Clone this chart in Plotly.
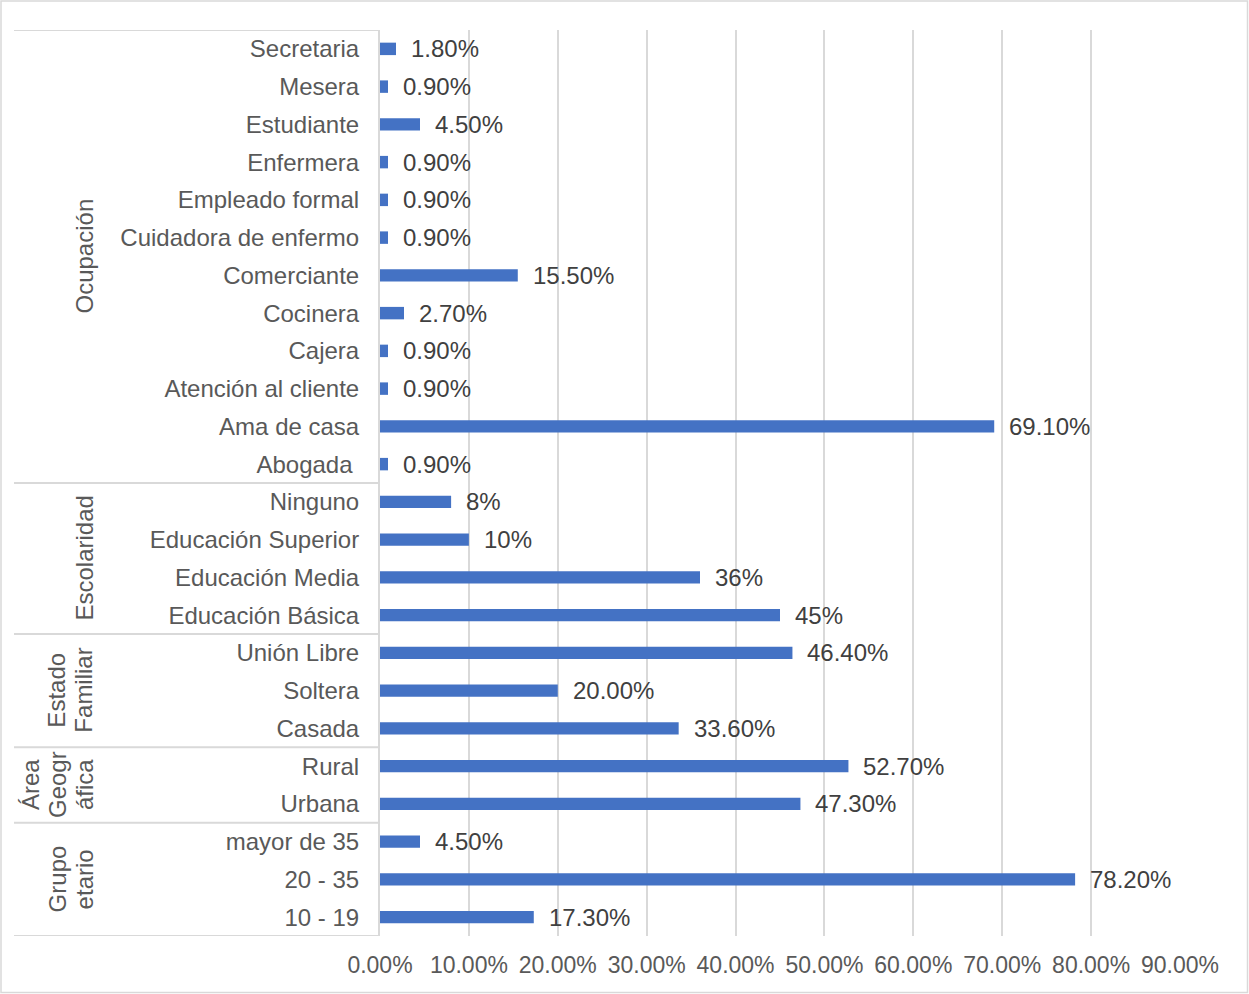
import plotly.graph_objects as go

# Category data, listed from bottom to top of the chart
groups = [["Grupo", "etario"], ["Área", "Geogr", "áfica"], ["Estado", "Familiar"],
          ["Escolaridad"], ["Ocupación"]]
group_items = [
    ["10 - 19", "20 - 35", "mayor de 35"],
    ["Urbana", "Rural"],
    ["Casada", "Soltera", "Unión Libre"],
    ["Educación Básica", "Educación Media", "Educación Superior", "Ninguno"],
    ["Abogada\u00a0", "Ama de casa", "Atención al cliente", "Cajera", "Cocinera",
     "Comerciante", "Cuidadora de enfermo", "Empleado formal", "Enfermera",
     "Estudiante", "Mesera", "Secretaria"],
]
group_values = [
    [17.30, 78.20, 4.50],
    [47.30, 52.70],
    [33.60, 20.00, 46.40],
    [45, 36, 10, 8],
    [0.90, 69.10, 0.90, 0.90, 2.70, 15.50, 0.90, 0.90, 0.90, 4.50, 0.90, 1.80],
]
group_labels = [
    ["17.30%", "78.20%", "4.50%"],
    ["47.30%", "52.70%"],
    ["33.60%", "20.00%", "46.40%"],
    ["45%", "36%", "10%", "8%"],
    ["0.90%", "69.10%", "0.90%", "0.90%", "2.70%", "15.50%", "0.90%", "0.90%",
     "0.90%", "4.50%", "0.90%", "1.80%"],
]
x_ticks = [0, 10, 20, 30, 40, 50, 60, 70, 80, 90]

W, H = 1249, 994
ML, MR, MT, MB = 380, 69, 30, 58
PW, PH = W - ML - MR, H - MT - MB

FONT = "Arial, Liberation Sans, sans-serif"
FS = 24
AXIS_COLOR = "#595959"
LABEL_COLOR = "#404040"
LINE_COLOR = "#d9d9d9"
BAR_COLOR = "#4472C4"

# Group title column: last line centred at this pixel, earlier lines to its left
TITLE_X = 84
TITLE_STEP = 27

items, values, labels, ypos = [], [], [], []
bounds = [-0.5]
i = 0
for names, vals, labs in zip(group_items, group_values, group_labels):
    for n, v, l in zip(names, vals, labs):
        items.append(n)
        values.append(v)
        labels.append(l)
        ypos.append(i)
        i += 1
    bounds.append(i - 0.5)


def px_x(px):
    return (px - ML) / PW


def px_y(py):
    return (MT + PH - py) / PH


fig = go.Figure()
fig.add_trace(go.Bar(
    x=values, y=ypos, orientation="h",
    marker=dict(color=BAR_COLOR, line=dict(width=0)),
    width=0.33, hoverinfo="skip",
))

annotations = []
for v, y, l in zip(values, ypos, labels):
    annotations.append(dict(
        x=v, y=y, xref="x", yref="y", text=l, showarrow=False,
        xanchor="left", yanchor="middle", xshift=13,
        font=dict(family=FONT, size=FS, color=LABEL_COLOR),
    ))

# Group titles, rotated, centred on their rows
for lines, lo, hi in zip(groups, bounds[:-1], bounds[1:]):
    n = len(lines)
    for k, line in enumerate(lines):
        annotations.append(dict(
            x=px_x(TITLE_X - (n - 1 - k) * TITLE_STEP), y=(lo + hi) / 2,
            xref="paper", yref="y", text=line,
            showarrow=False, textangle=-90, xanchor="center", yanchor="middle",
            font=dict(family=FONT, size=FS, color=AXIS_COLOR),
        ))

shapes = []
# Separators between groups on the category axis
for b in bounds:
    shapes.append(dict(
        type="line", xref="paper", yref="y",
        x0=px_x(14), x1=0, y0=b, y1=b,
        line=dict(color=LINE_COLOR, width=2),
    ))
# Chart border
shapes.append(dict(
    type="rect", xref="paper", yref="paper",
    x0=px_x(1), x1=px_x(W - 1.5), y0=px_y(H - 1.5), y1=px_y(1),
    line=dict(color=LINE_COLOR, width=1.5), fillcolor="rgba(0,0,0,0)",
))

fig.update_layout(
    width=W, height=H,
    margin=dict(l=ML, r=MR, t=MT, b=MB, autoexpand=False),
    paper_bgcolor="white", plot_bgcolor="white",
    showlegend=False,
    annotations=annotations, shapes=shapes,
    font=dict(family=FONT, size=FS, color=AXIS_COLOR),
    xaxis=dict(
        range=[0, 90], tickvals=x_ticks,
        ticktext=[f"{t:.2f}%" for t in x_ticks],
        showgrid=True, gridcolor=LINE_COLOR, gridwidth=1.5,
        zeroline=False, showline=False, ticks="",
        tickfont=dict(family=FONT, size=FS - 1, color=AXIS_COLOR),
        ticklabelstandoff=13, fixedrange=True,
    ),
    yaxis=dict(
        range=[-0.5, len(items) - 0.5], tickvals=ypos, ticktext=items,
        showgrid=False, zeroline=False,
        showline=True, linecolor=LINE_COLOR, linewidth=2,
        ticks="", ticklabelstandoff=14,
        tickfont=dict(family=FONT, size=FS, color=AXIS_COLOR),
        fixedrange=True,
    ),
)

fig.write_html("out.html", config={"displayModeBar": False})
